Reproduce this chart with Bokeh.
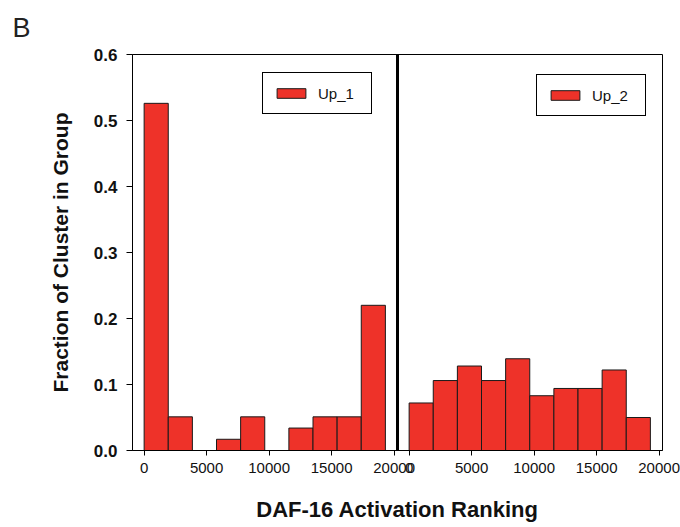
from bokeh.plotting import figure
from bokeh.models import (Range1d, LinearAxis, FixedTicker, PrintfTickFormatter,
                          Span, Legend, LegendItem)
from bokeh.embed import file_html
from bokeh.resources import INLINE

# ---- data ----
bin_edges = [0, 1930, 3860, 5790, 7720, 9650, 11580, 13510, 15440, 17370, 19300]
up1_fraction = [0.526, 0.051, 0.0, 0.017, 0.051, 0.0, 0.034, 0.051, 0.051, 0.220]
up2_fraction = [0.072, 0.106, 0.128, 0.106, 0.139, 0.083, 0.094, 0.094, 0.122, 0.050]
x_ticks = [0, 5000, 10000, 15000, 20000]
y_ticks = [0.0, 0.1, 0.2, 0.3, 0.4, 0.5, 0.6]
series_names = ["Up_1", "Up_2"]

FONT = "Liberation Sans"
BAR_COLOR = "#EE3229"
TEXT = "#111111"

# each panel shows the same ranking range; the right panel uses an extra range
X_START, X_END = -930, 20270
PANEL = X_END - X_START

p = figure(width=680, height=527, output_backend="svg", toolbar_location=None,
           x_range=Range1d(X_START, X_START + 2 * PANEL), y_range=Range1d(0, 0.6),
           x_axis_type=None, min_border_left=132, min_border_right=18,
           min_border_top=54, min_border_bottom=77)
p.extra_x_ranges = {"right": Range1d(X_START - PANEL, X_END)}
p.grid.visible = False
p.outline_line_color = "black"
p.outline_line_alpha = 1
p.outline_line_width = 1
p.background_fill_color = "white"
p.border_fill_color = "white"

# panel letter as the title, shifted to the far left
p.title.text = "B"
p.title.align = "left"
p.title.vertical_align = "top"
p.title.offset = -120
p.title.standoff = 20
p.title.text_font = FONT
p.title.text_font_size = "27px"
p.title.text_font_style = "normal"
p.title.text_color = "#222222"

r1 = p.quad(left=bin_edges[:-1], right=bin_edges[1:], top=up1_fraction, bottom=0,
            fill_color=BAR_COLOR, line_color="#1a1a1a", line_width=1)
r2 = p.quad(left=bin_edges[:-1], right=bin_edges[1:], top=up2_fraction, bottom=0,
            fill_color=BAR_COLOR, line_color="#1a1a1a", line_width=1,
            x_range_name="right")

# divider between panels
p.add_layout(Span(location=X_END, dimension="height", line_color="black", line_width=3))

# x axis (ticks for both panels on one axis)
tick_pos = list(x_ticks) + [t + PANEL for t in x_ticks]
overrides = {t + PANEL: str(t) for t in x_ticks}
overrides.update({t: str(t) for t in x_ticks})
xaxis = LinearAxis(ticker=FixedTicker(ticks=tick_pos), major_label_overrides=overrides)
xaxis.axis_label = "DAF-16 Activation Ranking"
xaxis.axis_label_text_font = FONT
xaxis.axis_label_text_font_style = "bold"
xaxis.axis_label_text_font_size = "22px"
xaxis.axis_label_text_color = TEXT
xaxis.axis_label_standoff = 21
xaxis.major_label_text_font = FONT
xaxis.major_label_text_font_size = "15px"
xaxis.major_label_text_color = TEXT
xaxis.major_label_standoff = 7
xaxis.major_tick_out = 5
xaxis.major_tick_in = 0
xaxis.minor_tick_line_color = None
xaxis.axis_line_color = "black"
p.add_layout(xaxis, "below")

yaxis = p.yaxis[0]
yaxis.ticker = FixedTicker(ticks=y_ticks)
yaxis.formatter = PrintfTickFormatter(format="%.1f")
yaxis.axis_label = "Fraction of Cluster in Group"
yaxis.axis_label_text_font = FONT
yaxis.axis_label_text_font_style = "bold"
yaxis.axis_label_text_font_size = "21px"
yaxis.axis_label_text_color = TEXT
yaxis.axis_label_standoff = 19
yaxis.major_label_text_font = FONT
yaxis.major_label_text_font_style = "bold"
yaxis.major_label_text_font_size = "17px"
yaxis.major_label_text_color = TEXT
yaxis.major_label_standoff = 9
yaxis.major_tick_out = 6
yaxis.major_tick_in = 0
yaxis.minor_tick_line_color = None
yaxis.axis_line_color = "black"


def make_legend(name, renderer, loc):
    lg = Legend(items=[LegendItem(label=name, renderers=[renderer])], location=loc)
    lg.border_line_color = "black"
    lg.border_line_width = 1
    lg.border_line_alpha = 1
    lg.background_fill_alpha = 1
    lg.padding = 10
    lg.margin = 0
    lg.spacing = 0
    lg.glyph_width = 36
    lg.glyph_height = 12
    lg.label_standoff = 9
    lg.label_width = 43
    lg.label_height = 20
    lg.label_text_font = FONT
    lg.label_text_font_size = "15px"
    lg.label_text_color = TEXT
    return lg


p.add_layout(make_legend(series_names[0], r1, (130, 336)), "center")
p.add_layout(make_legend(series_names[1], r2, (404, 334)), "center")

open("out.html", "w").write(file_html(p, INLINE))
